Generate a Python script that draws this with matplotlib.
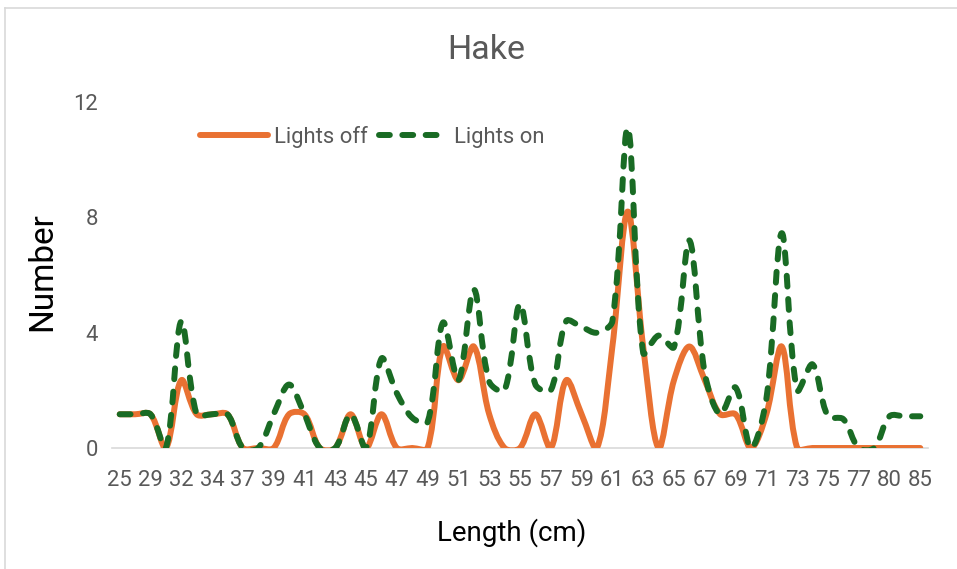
import matplotlib.pyplot as plt
import numpy as np
from matplotlib.lines import Line2D
from matplotlib.patches import PathPatch
from matplotlib.path import Path

# Length classes (cm); every other one gets a tick label, as in the source chart
lengths = [25, 27, 29, 31, 32, 33, 34, 36, 37, 38, 39, 40, 41, 42, 43, 44, 45,
           46, 47, 48, 49, 50, 51, 52, 53, 54, 55, 56, 57, 58, 59, 60, 61, 62,
           63, 64, 65, 66, 67, 68, 69, 70, 71, 72, 73, 74, 75, 76, 77, 78, 80,
           82, 85]

lights_off = [1.17, 1.17, 1.17, 0, 2.35, 1.17, 1.17, 1.17, 0, 0, 0, 1.17, 1.17,
              0, 0, 1.17, 0, 1.17, 0, 0, 0, 3.52, 2.35, 3.52, 1.17, 0, 0, 1.17,
              0, 2.35, 1.17, 0, 3.52, 8.2, 3.52, 0, 2.35, 3.52, 2.35, 1.17,
              1.17, 0, 1.17, 3.52, 0, 0, 0, 0, 0, 0, 0, 0, 0]

lights_on = [1.17, 1.17, 1.17, 0, 4.4, 1.17, 1.17, 1.17, 0, 0, 1.17, 2.2, 1.17,
             0, 0, 1.17, 0, 3.1, 1.9, 1.05, 0.9, 4.35, 2.35, 5.5, 2.3, 2.0, 5.0,
             2.2, 2.0, 4.4, 4.2, 4.0, 4.4, 11.1, 3.3, 3.9, 3.5, 7.2, 2.6, 1.17,
             2.1, 0, 1.7, 7.45, 2.0, 2.9, 1.1, 1.0, 0, 0, 1.1, 1.1, 1.1]

y_ticks = [0, 4, 8, 12]

ORANGE = "#E97132"
GREEN = "#196B24"
GREY_TEXT = "#595959"
GREY_LINE = "#D9D9D9"

plt.rcParams["font.family"] = ["Roboto", "DejaVu Sans"]
plt.rcParams["lines.scale_dashes"] = False

LW = 4.3
DASHES = (7.8, 9.0)


def smooth_path(ax, xs, ys):
    """Excel-style smoothed line: cubic Bezier segments through every point.

    Control points are worked out in pixel space so steep and flat segments
    behave like the spreadsheet's curve, then mapped back to data space.
    """
    pts = ax.transData.transform(np.column_stack([xs, ys]).astype(float))
    n = len(pts)
    verts = [pts[0]]
    codes = [Path.MOVETO]
    for i in range(n - 1):
        p0 = pts[max(i - 1, 0)]
        p1 = pts[i]
        p2 = pts[i + 1]
        p3 = pts[min(i + 2, n - 1)]
        d01 = np.hypot(*(p1 - p0))
        d12 = np.hypot(*(p2 - p1))
        d23 = np.hypot(*(p3 - p2))
        w1 = d12 / (d01 + d12) if d01 + d12 > 0 else 0.5
        w2 = d12 / (d12 + d23) if d12 + d23 > 0 else 0.5
        c1 = p1 + (p2 - p0) * w1 / 3
        c2 = p2 - (p3 - p1) * w2 / 3
        verts += [c1, c2, p2]
        codes += [Path.CURVE4] * 3
    verts = ax.transData.inverted().transform(np.array(verts))
    return Path(verts, codes)


fig = plt.figure(figsize=(9.57, 5.69), dpi=100)
ax = fig.add_axes([112 / 957, 1 - 448 / 569, 816 / 957, 346 / 569])

x = np.arange(len(lengths))
ax.set_xlim(-0.5, len(lengths) - 0.5)
ax.set_ylim(0, 12)

off_patch = PathPatch(smooth_path(ax, x, lights_off), fill=False,
                      edgecolor=ORANGE, lw=LW, capstyle="round",
                      joinstyle="round", zorder=3)
on_patch = PathPatch(smooth_path(ax, x, lights_on), fill=False,
                     edgecolor=GREEN, lw=LW, ls=(0, DASHES), capstyle="round",
                     joinstyle="round", zorder=4)
ax.add_patch(off_patch)
ax.add_patch(on_patch)

ax.set_xticks(x[::2])
ax.set_xticklabels([str(v) for v in lengths[::2]])
ax.set_yticks(y_ticks)
ax.tick_params(axis="both", length=0, labelsize=15.8, labelcolor=GREY_TEXT)
ax.tick_params(axis="x", pad=16)
ax.tick_params(axis="y", pad=10)

for side in ["top", "right", "left"]:
    ax.spines[side].set_visible(False)
ax.spines["bottom"].set_color(GREY_LINE)
ax.spines["bottom"].set_linewidth(1.2)

handles = [
    Line2D([], [], color=ORANGE, lw=LW, solid_capstyle="round"),
    Line2D([], [], color=GREEN, lw=LW, ls=(0, DASHES), dash_capstyle="round"),
]
leg = ax.legend(handles, ["Lights off", "Lights on"], loc="center",
                bbox_to_anchor=(372 / 957, 1 - 137 / 569),
                bbox_transform=fig.transFigure, ncol=2, frameon=False,
                fontsize=15.8, handlelength=3.1, handletextpad=0.3,
                columnspacing=0.5, borderpad=0)
for t in leg.get_texts():
    t.set_color(GREY_TEXT)

fig.text(486 / 957, 1 - 50 / 569, "Hake", ha="center", va="center",
         fontsize=24.5, color=GREY_TEXT)
fig.text(512 / 957, 1 - 533 / 569, "Length (cm)", ha="center", va="center",
         fontsize=20, color="black")
fig.text(42 / 957, 1 - 272 / 569, "Number", ha="center", va="center",
         rotation=90, fontsize=24, color="black")

# chart-area border (left and top edges are what shows in the crop)
fig.add_artist(Line2D([5 / 957, 5 / 957], [0, 1 - 8 / 569],
                      transform=fig.transFigure, color=GREY_LINE, lw=1.2))
fig.add_artist(Line2D([5 / 957, 1], [1 - 8 / 569, 1 - 8 / 569],
                      transform=fig.transFigure, color=GREY_LINE, lw=1.2))

fig.savefig("out.png", dpi=100)
